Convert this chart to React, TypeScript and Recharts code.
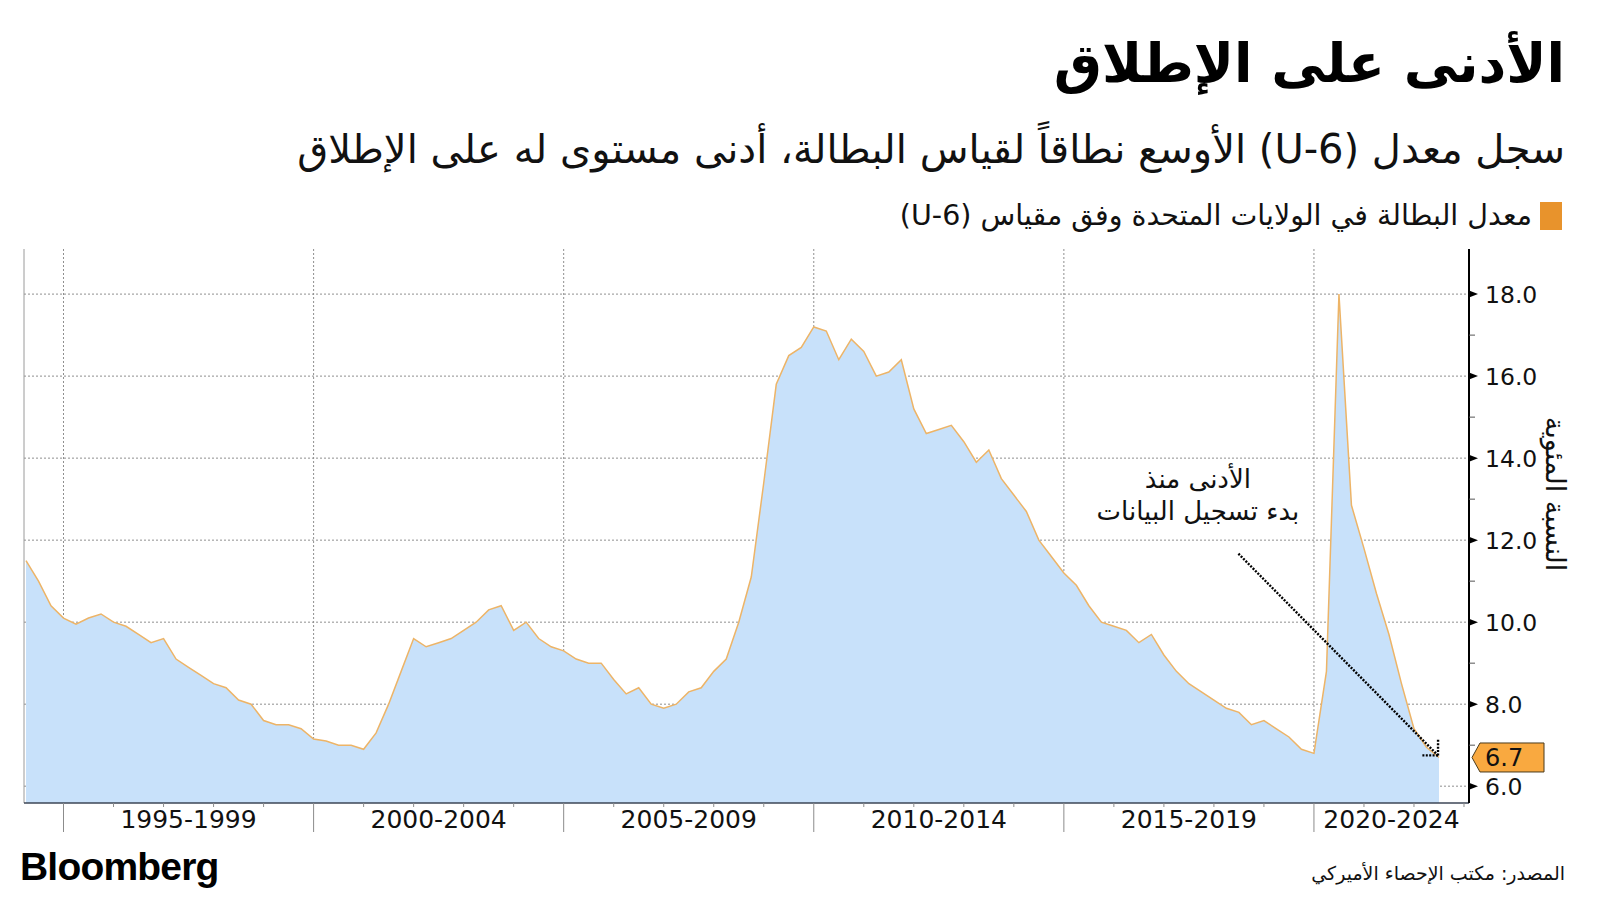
import React from 'react';
import { AreaChart, Area, XAxis, YAxis, CartesianGrid, ReferenceLine, ReferenceDot } from 'recharts';

// U-6 rate, quarter-end readings, Mar 1994 .. Jun 2022
const u6 = [
  11.5, 11.0, 10.4, 10.1,
  9.95, 10.1, 10.2, 10.0,
  9.9, 9.7, 9.5, 9.6,
  9.1, 8.9, 8.7, 8.5,
  8.4, 8.1, 8.0, 7.6,
  7.5, 7.5, 7.4, 7.15,
  7.1, 7.0, 7.0, 6.9,
  7.3, 8.0, 8.8, 9.6,
  9.4, 9.5, 9.6, 9.8,
  10.0, 10.3, 10.4, 9.8,
  10.0, 9.6, 9.4, 9.3,
  9.1, 9.0, 9.0, 8.6,
  8.25, 8.4, 8.0, 7.9,
  8.0, 8.3, 8.4, 8.8,
  9.1, 10.0, 11.1, 13.4,
  15.8, 16.5, 16.7, 17.2,
  17.1, 16.4, 16.9, 16.6,
  16.0, 16.1, 16.4, 15.2,
  14.6, 14.7, 14.8, 14.4,
  13.9, 14.2, 13.5, 13.1,
  12.7, 12.0, 11.6, 11.2,
  10.9, 10.4, 10.0, 9.9,
  9.8, 9.5, 9.7, 9.2,
  8.8, 8.5, 8.3, 8.1,
  7.9, 7.8, 7.5, 7.6,
  7.4, 7.2, 6.9, 6.8,
  8.8, 18.0, 12.85, 11.8,
  10.7, 9.7, 8.5, 7.4,
  6.95, 6.7,
];
const firstQuarter = 1994.25;

const periodStarts = [1995, 2000, 2005, 2010, 2015, 2020];
const periodLabels = ['1995-1999', '2000-2004', '2005-2009', '2010-2014', '2015-2019', '2020-2024'];
const yearTicks = [
  1995, 1996, 1997, 1998, 1999, 2000, 2001, 2002, 2003, 2004, 2005, 2006, 2007, 2008, 2009,
  2010, 2011, 2012, 2013, 2014, 2015, 2016, 2017, 2018, 2019, 2020, 2021, 2022, 2023,
];
const yTicks = [6, 8, 10, 12, 14, 16, 18];
const yMinorTicks = [7, 9, 11, 13, 15, 17];

const xDomain = [1994.21, 2023.1];
const yDomain = [5.59, 19.1];

// annotation arrow, in data space
const arrowFrom = { x: 2018.49, y: 11.67 };
const arrowTo = { x: 2022.48, y: 6.75 };
const noteAt = { x: 2017.68, y: 13.28 };

const data = u6.map((v, i) => ({ t: firstQuarter + i * 0.25, v }));
const labelPos = periodStarts.map((s) => (s + Math.min(s + 5, xDomain[1])) / 2);

const FONT = '"DejaVu Sans", sans-serif';

const XTick = (props: any) => {
  const { x, y, payload } = props;
  const idx = labelPos.indexOf(payload.value);
  if (idx >= 0) {
    return (
      <text x={x} y={y + 25} textAnchor="middle" fontSize={25} fill="#111" fontFamily={FONT}>
        {periodLabels[idx]}
      </text>
    );
  }
  const major = periodStarts.includes(payload.value);
  return <line x1={x} x2={x} y1={y} y2={y + (major ? 29 : 4)} stroke="#8c8c8c" strokeWidth={1} />;
};

const YTick = (props: any) => {
  const { x, y, payload } = props;
  if (!yTicks.includes(payload.value)) {
    return <line x1={x} x2={x + 6} y1={y} y2={y} stroke="#555" strokeWidth={1} />;
  }
  return (
    <g>
      <polygon points={`${x},${y - 3.5} ${x + 9},${y} ${x},${y + 3.5}`} fill="#000" />
      <text x={x + 16} y={y} dy="0.36em" fontSize={23.5} fill="#111" fontFamily={FONT}>
        {payload.value.toFixed(1)}
      </text>
    </g>
  );
};

const ArrowShape = (p: any) => {
  const { x1, y1, x2, y2 } = p;
  const ang = Math.atan2(y2 - y1, x2 - x1);
  const len = 17;
  const a1 = ang + Math.PI - Math.PI / 4;
  const a2 = ang + Math.PI + Math.PI / 4;
  return (
    <g stroke="#000" strokeWidth={2.4} strokeDasharray="2 1.4" fill="none">
      <line x1={x1} y1={y1} x2={x2} y2={y2} />
      <line x1={x2} y1={y2} x2={x2 + len * Math.cos(a1)} y2={y2 + len * Math.sin(a1)} />
      <line x1={x2} y1={y2} x2={x2 + len * Math.cos(a2)} y2={y2 + len * Math.sin(a2)} />
    </g>
  );
};

const LastTag = (p: any) => {
  const vb = p.viewBox;
  const tip = vb.x + vb.width + 3;
  const y = vb.y;
  const last = u6[u6.length - 1];
  return (
    <g>
      <polygon
        points={`${tip},${y} ${tip + 8},${y - 14.5} ${tip + 72},${y - 14.5} ${tip + 72},${y + 14.5} ${tip + 8},${y + 14.5}`}
        fill="#F9A940"
        stroke="#4a3b1c"
        strokeWidth={1}
      />
      <text x={tip + 13} y={y} dy="0.36em" fontSize={24} fill="#111" fontFamily={FONT}>
        {last.toFixed(1)}
      </text>
    </g>
  );
};

const NoteLabel = (p: any) => {
  const vb = p.viewBox;
  return (
    <text x={vb.x} y={vb.y} textAnchor="middle" fontSize={26} fill="#111" fontFamily={FONT}>
      <tspan x={vb.x} dy={0}>الأدنى منذ</tspan>
      <tspan x={vb.x} dy={32}>بدء تسجيل البيانات</tspan>
    </text>
  );
};

const YLabel = (p: any) => {
  const vb = p.viewBox;
  const cx = vb.x + 77;
  const cy = vb.y + vb.height / 2 - 32;
  return (
    <text transform={`translate(${cx},${cy}) rotate(90)`} textAnchor="middle" fontSize={27} fill="#111" fontFamily={FONT}>
      النسبة المئوية
    </text>
  );
};

export default function App() {
  return (
    <div style={{ position: 'absolute', left: 0, top: 0, width: 1600, height: 900, background: '#fff', fontFamily: FONT, overflow: 'hidden' }}>
      <div dir="rtl" style={{ position: 'absolute', right: 35, top: 37, fontSize: 54, lineHeight: '54px', fontWeight: 700, color: '#000', whiteSpace: 'nowrap' }}>
        الأدنى على الإطلاق
      </div>
      <div dir="rtl" style={{ position: 'absolute', right: 35, top: 129, fontSize: 40, lineHeight: '40px', color: '#111', whiteSpace: 'nowrap' }}>
        سجل معدل (U-6) الأوسع نطاقاً لقياس البطالة، أدنى مستوى له على الإطلاق
      </div>
      <div dir="rtl" style={{ position: 'absolute', right: 38, top: 202, display: 'flex', alignItems: 'center', whiteSpace: 'nowrap' }}>
        <span style={{ display: 'inline-block', width: 22, height: 28, background: '#E8932C', marginLeft: 8 }} />
        <span style={{ fontSize: 28.5, lineHeight: '28px', color: '#111' }}>معدل البطالة في الولايات المتحدة وفق مقياس (U-6)</span>
      </div>

      <div style={{ position: 'absolute', left: 0, top: 0 }}>
        <AreaChart width={1600} height={900} data={data} margin={{ top: 249, right: 0, bottom: 0, left: 24 }}>
          <XAxis
            dataKey="t"
            type="number"
            domain={xDomain}
            allowDataOverflow
            ticks={[...yearTicks, ...labelPos]}
            interval={0}
            tick={<XTick />}
            tickLine={false}
            tickSize={0}
            tickMargin={0}
            height={97}
            axisLine={{ stroke: '#3c4656', strokeWidth: 1.5 }}
          />
          <YAxis
            orientation="right"
            type="number"
            domain={yDomain}
            allowDataOverflow
            ticks={[...yTicks, ...yMinorTicks]}
            interval={0}
            tick={<YTick />}
            tickLine={false}
            tickSize={0}
            tickMargin={0}
            width={131}
            axisLine={{ stroke: '#000', strokeWidth: 2 }}
            label={YLabel}
          />
          <Area
            type="linear"
            dataKey="v"
            stroke="#EDB467"
            strokeWidth={1.5}
            fill="#C8E1FA"
            fillOpacity={1}
            isAnimationActive={false}
            dot={false}
            activeDot={false}
          />
          <CartesianGrid
            horizontalValues={yTicks}
            verticalValues={periodStarts}
            stroke="#8f8f8f"
            strokeDasharray="2 2"
          />
          <ReferenceLine x={xDomain[0]} stroke="#9a9a9a" strokeWidth={1} />
          <ReferenceLine segment={[arrowFrom, arrowTo]} shape={ArrowShape} ifOverflow="visible" />
          <ReferenceDot x={noteAt.x} y={noteAt.y} r={0} fill="none" stroke="none" label={NoteLabel} />
          <ReferenceLine y={u6[u6.length - 1]} stroke="none" label={LastTag} />
        </AreaChart>
      </div>

      <div style={{ position: 'absolute', left: 20, top: 847, fontFamily: '"Liberation Sans", Arial, sans-serif', fontWeight: 700, fontSize: 39, lineHeight: '39px', letterSpacing: -0.8, color: '#000' }}>
        Bloomberg
      </div>
      <div dir="rtl" style={{ position: 'absolute', right: 35, top: 864, fontSize: 19, lineHeight: '19px', color: '#111', whiteSpace: 'nowrap' }}>
        المصدر: مكتب الإحصاء الأميركي
      </div>
    </div>
  );
}
